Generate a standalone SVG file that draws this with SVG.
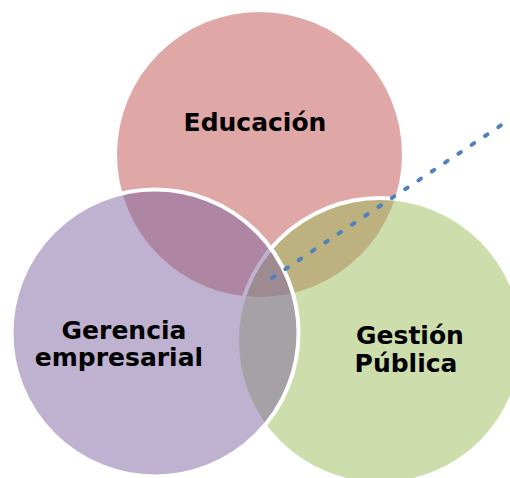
<svg xmlns="http://www.w3.org/2000/svg" width="510" height="478" viewBox="0 0 510 478">
  <style>
    .lbl { font-family: "DejaVu Sans", "Liberation Sans", sans-serif; font-weight: bold; font-size: 25px; fill: #000000; text-anchor: middle; }
    .circ { fill-opacity: 0.5; }
    .edge { stroke: #FFFFFF; stroke-width: 4; }
    .conn { fill: none; stroke: #4F81BD; stroke-width: 4; stroke-linecap: round; stroke-dasharray: 3 13; }
  </style>
  <rect x="0" y="0" width="510" height="478" fill="#FFFFFF"/>
  <g id="educacion">
    <circle class="circ" cx="259.5" cy="154.5" r="142.5" fill="#C0504D"/>
    <text class="lbl" x="255" y="131">Educación</text>
  </g>
  <g id="gestion-publica">
    <circle class="circ edge" cx="380" cy="341" r="143" fill="#9BBB59"/>
    <text class="lbl" x="410" y="344">Gestión</text>
    <text class="lbl" x="406" y="372">Pública</text>
  </g>
  <g id="gerencia-empresarial">
    <circle class="circ edge" cx="155" cy="333" r="143.5" fill="#8064A2"/>
    <text class="lbl" x="124" y="339">Gerencia</text>
    <text class="lbl" x="119" y="366">empresarial</text>
  </g>
  <g id="connectors">
    <line class="conn" x1="272" y1="278" x2="503" y2="124"/>
  </g>
</svg>
